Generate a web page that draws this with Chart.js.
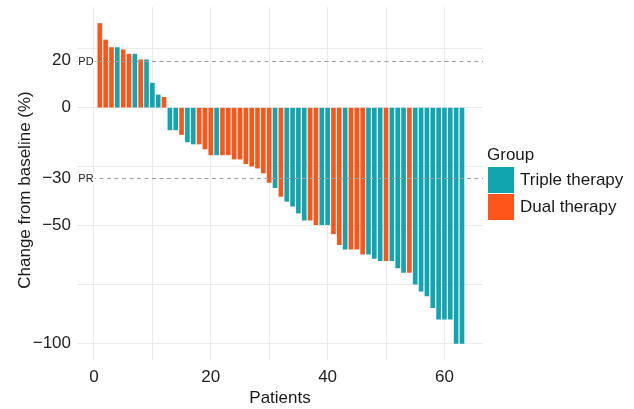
<!DOCTYPE html>
<html>
<head>
<meta charset="utf-8">
<title>Waterfall plot</title>
<script src="https://cdn.jsdelivr.net/npm/chart.js@4.4.1/dist/chart.umd.min.js"></script>
<style>
  html, body { margin: 0; padding: 0; background: #fff; }
  #wrap {
    position: relative; width: 634px; height: 409px;
    font-family: "Liberation Sans", Arial, Helvetica, sans-serif; color: #1a1a1a;
  }
  #chart { position: absolute; left: 0; top: 0; }
  #legend { position: absolute; left: 487px; top: 145px; font-size: 17px; }
  #legend .lg-title { height: 22px; line-height: 20px; }
  #legend .lg-item { display: flex; align-items: center; height: 26px; margin-bottom: 1px; }
  #legend .lg-key { width: 26px; height: 26px; margin-left: 1px; margin-right: 6px; }
</style>
</head>
<body>
<div id="wrap">
  <canvas id="chart" width="634" height="409"></canvas>
  <div id="legend"></div>
</div>
<script>
// best % change from baseline, one entry per patient (sorted)
const changePct = [
  35.7, 28.7, 25.5, 25.5, 24.6, 22.7, 22.7, 20.3, 20.3, 10.4,
  5.4, 4.4, -9.4, -9.4, -11.4, -14.5, -15.4, -15.4, -17.5, -20.0,
  -20.0, -20.0, -20.0, -21.8, -21.8, -23.8, -24.8, -25.6, -27.7, -31.7,
  -33.9, -37.6, -39.7, -41.8, -44.7, -47.7, -47.7, -49.6, -49.6, -49.6,
  -53.5, -58.1, -60.0, -60.0, -60.0, -62.1, -62.1, -63.9, -64.9, -64.9,
  -64.9, -67.9, -69.9, -69.9, -74.8, -77.8, -79.8, -84.8, -89.7, -89.7,
  -89.7, -100.0, -100.0
];
// treatment group per patient: T = triple, D = dual
const groupCode = [
  'D', 'D', 'D', 'T', 'D', 'D', 'T', 'D', 'T', 'T',
  'T', 'D', 'T', 'T', 'D', 'T', 'T', 'D', 'D', 'D',
  'T', 'D', 'D', 'D', 'D', 'D', 'D', 'D', 'D', 'D',
  'T', 'D', 'T', 'T', 'T', 'T', 'D', 'D', 'T', 'T',
  'D', 'D', 'T', 'D', 'D', 'D', 'T', 'T', 'T', 'D',
  'T', 'T', 'T', 'D', 'T', 'T', 'T', 'T', 'T', 'T',
  'T', 'T', 'T'
];
const groupKeys = ['T', 'D'];
const groupNames = { T: 'Triple therapy', D: 'Dual therapy' };
const groupColors = { T: '#11a5b0', D: '#ff5519' };

const yLabelTicks = [20, 0, -30, -50, -100];
const yGridLines = [25, 0, -25, -50, -75, -100];
const xLabelTicks = [0, 20, 40, 60];
const xGridLines = [0, 10, 20, 30, 40, 50, 60];
const refLines = [{ value: 20, label: 'PD' }, { value: -30, label: 'PR' }];
const yTitle = 'Change from baseline (%)';

const FONT = '"Liberation Sans", Arial, Helvetica, sans-serif';
const patients = changePct.map((_, i) => i + 1);
const fmt = (v) => (v < 0 ? '\u2212' + Math.abs(v) : String(v));

const datasets = groupKeys.map((key) => ({
  label: groupNames[key],
  data: patients
    .filter((p, i) => groupCode[i] === key)
    .map((p) => ({ x: p, y: changePct[p - 1] })),
  backgroundColor: groupColors[key],
  borderWidth: 0,
  grouped: false,
  barThickness: 4
}));

// dashed PD / PR thresholds with their small labels, plus the y title
const refLinePlugin = {
  id: 'refLines',
  afterDatasetsDraw(chart) {
    const { ctx, chartArea: a, scales: { y } } = chart;
    ctx.save();
    refLines.forEach((r) => {
      const py = Math.round(y.getPixelForValue(r.value)) + 0.5;
      ctx.strokeStyle = '#a0a0a0';
      ctx.lineWidth = 1;
      ctx.setLineDash([4, 3.5]);
      ctx.beginPath();
      ctx.moveTo(a.left, py);
      ctx.lineTo(a.right, py);
      ctx.stroke();
      ctx.setLineDash([]);
      ctx.font = '11px ' + FONT;
      const w = ctx.measureText(r.label).width;
      const cx = a.left + 9;
      ctx.fillStyle = '#fff';
      ctx.fillRect(cx - w / 2 - 1, py - 5, w + 2, 10);
      ctx.fillStyle = '#222';
      ctx.textAlign = 'center';
      ctx.textBaseline = 'middle';
      ctx.fillText(r.label, cx, py);
    });

    // y axis title, sitting a little below the middle of the plot
    ctx.translate(25, a.bottom - 170);
    ctx.rotate(-Math.PI / 2);
    ctx.font = '17px ' + FONT;
    ctx.fillStyle = '#1a1a1a';
    ctx.textAlign = 'center';
    ctx.textBaseline = 'middle';
    ctx.fillText(yTitle, 0, 0);
    ctx.restore();
  }
};

new Chart(document.getElementById('chart'), {
  type: 'bar',
  data: { datasets },
  options: {
    responsive: false,
    animation: false,
    layout: { padding: { top: 7, right: 151, left: 0, bottom: 0 } },
    plugins: { legend: { display: false }, tooltip: { enabled: false } },
    scales: {
      x: {
        type: 'linear',
        min: -2.9,
        max: 66.6,
        offset: false,
        afterBuildTicks: (s) => { s.ticks = xGridLines.map((v) => ({ value: v })); },
        afterFit: (s) => { s.height = 49; s.paddingLeft = 0; s.paddingRight = 0; },
        grid: { offset: false, drawTicks: false, color: '#ebebeb', lineWidth: 1 },
        border: { display: false },
        ticks: {
          padding: 7,
          color: '#222',
          font: { family: FONT, size: 17 },
          maxRotation: 0,
          autoSkip: false,
          callback: (v) => (xLabelTicks.includes(v) ? fmt(v) : '')
        },
        title: {
          display: true,
          text: 'Patients',
          color: '#1a1a1a',
          font: { family: FONT, size: 17 },
          padding: { top: 0, bottom: 0 }
        }
      },
      y: {
        type: 'linear',
        min: -107,
        max: 42.7,
        afterBuildTicks: (s) => {
          const vals = [...new Set([...yGridLines, ...yLabelTicks])].sort((a, b) => a - b);
          s.ticks = vals.map((v) => ({ value: v }));
        },
        afterFit: (s) => { s.width = 77; s.paddingTop = 0; s.paddingBottom = 0; },
        grid: {
          drawTicks: false,
          lineWidth: 1,
          color: (c) => (c.tick && yGridLines.includes(c.tick.value) ? '#ebebeb' : 'rgba(0,0,0,0)')
        },
        border: { display: false },
        ticks: {
          padding: 6,
          color: '#222',
          font: { family: FONT, size: 17 },
          autoSkip: false,
          callback: (v) => (yLabelTicks.includes(v) ? fmt(v) : '')
        },
        title: { display: false }
      }
    }
  },
  plugins: [refLinePlugin]
});

// legend on the right
const legend = document.getElementById('legend');
legend.innerHTML = '<div class="lg-title">Group</div>' + groupKeys.map((k) =>
  '<div class="lg-item"><span class="lg-key" style="background:' + groupColors[k] + '"></span>' +
  groupNames[k] + '</div>').join('');
</script>
</body>
</html>
